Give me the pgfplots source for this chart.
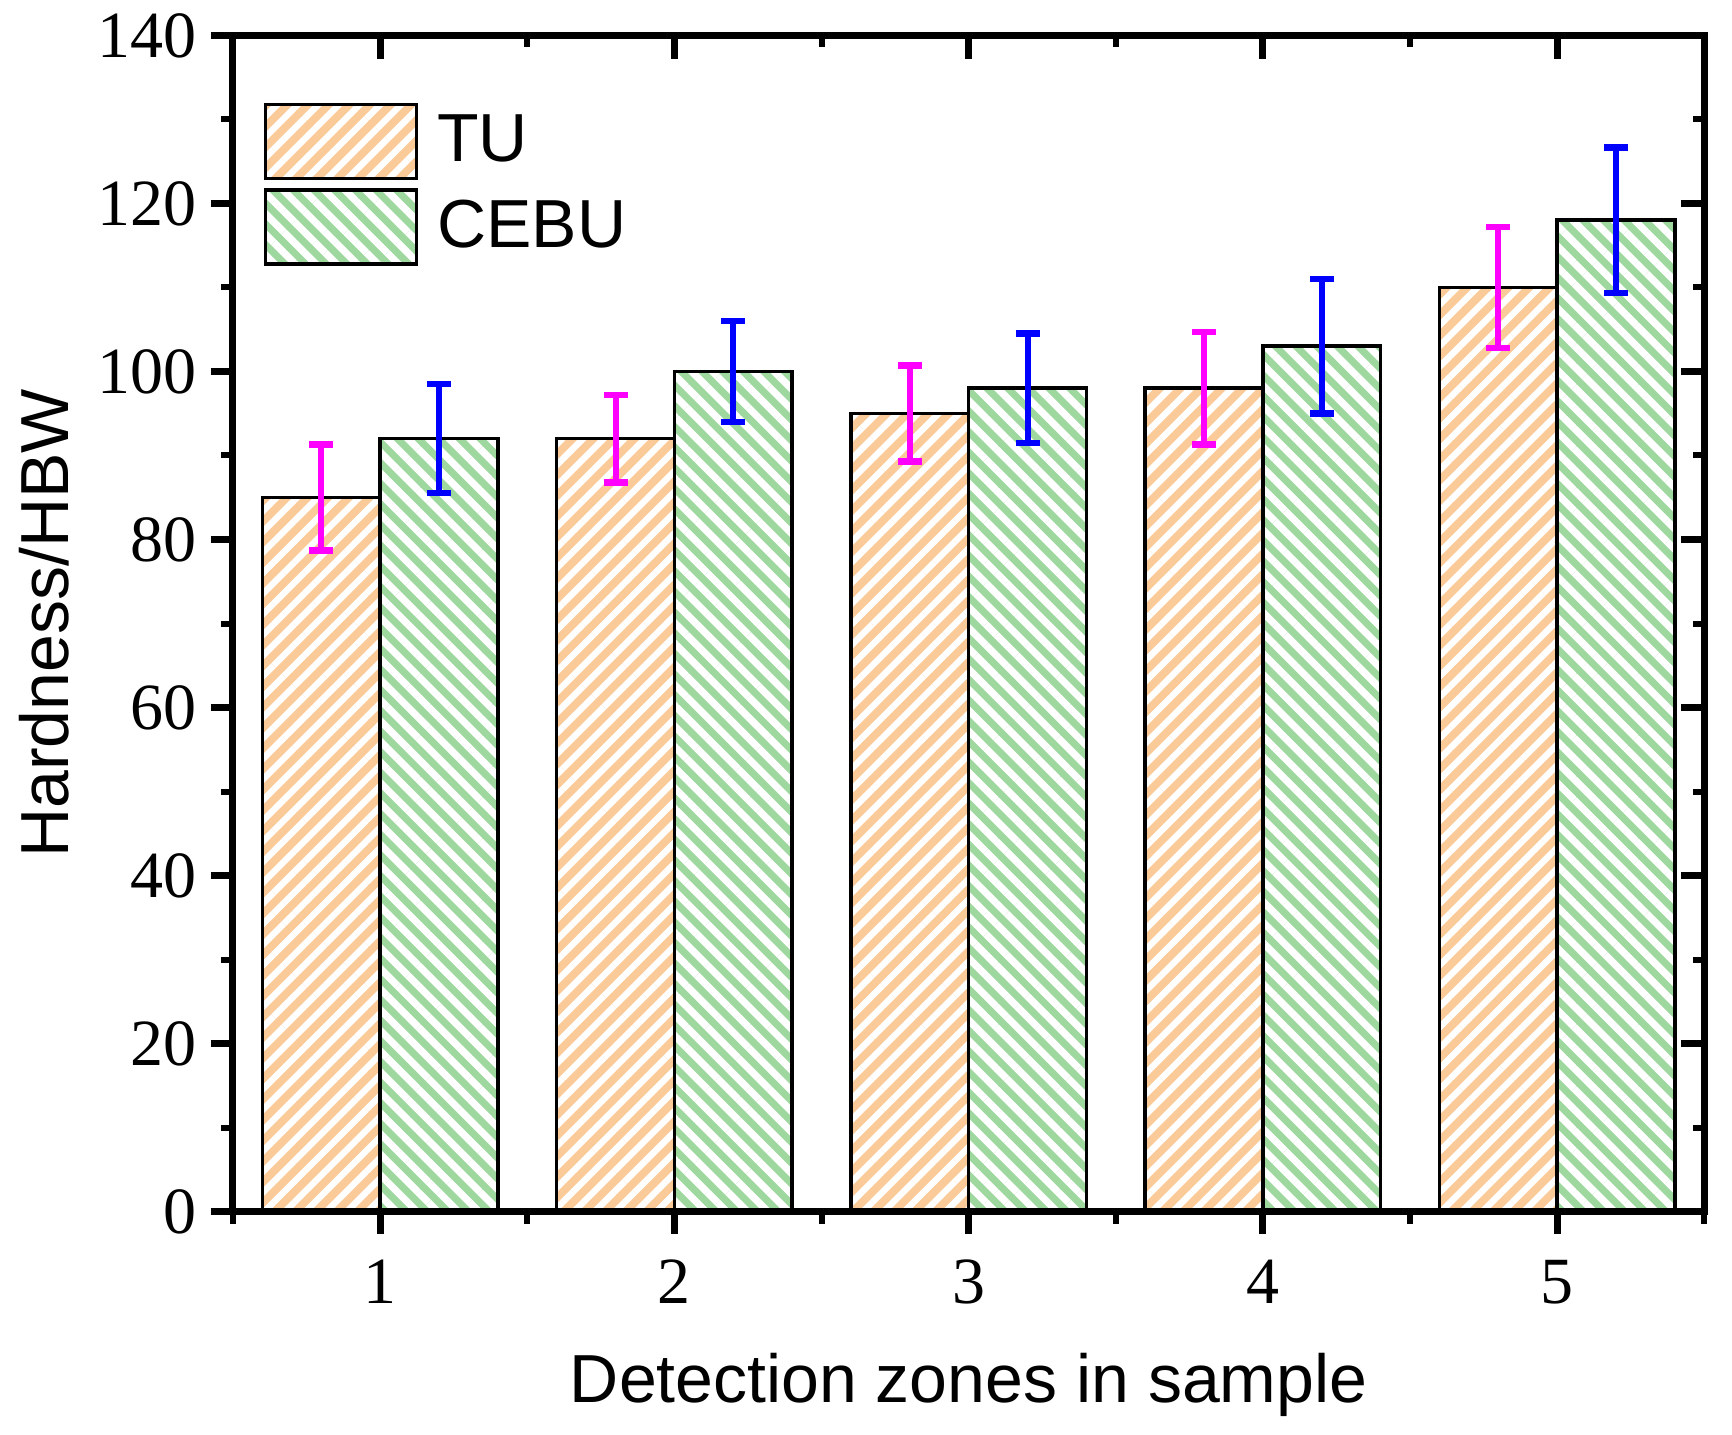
\documentclass[border=0pt]{standalone}
\usepackage{pgfplots}
\pgfplotsset{compat=1.18}
\usetikzlibrary{patterns.meta}
\usepackage{fontspec}
\setmainfont{Liberation Sans}
\newfontfamily\numfont{Liberation Serif}

\definecolor{tuorange}{RGB}{251,202,153}
\definecolor{cebugreen}{RGB}{158,216,158}
\definecolor{errmag}{RGB}{255,0,255}
\definecolor{errblue}{RGB}{0,0,255}

\pgfplotsset{
  tustyle/.style={draw=black, line width=0.9pt,
    preaction={fill=tuorange},
    pattern={Lines[angle=45, distance=3.65pt, line width=1.6pt]}, pattern color=white},
  cebustyle/.style={draw=black, line width=0.9pt,
    preaction={fill=cebugreen},
    pattern={Lines[angle=-45, distance=3.65pt, line width=1.8pt]}, pattern color=white},
}

\begin{document}
\begin{tikzpicture}
\useasboundingbox (-58.25pt,-55.75pt) rectangle (374.8pt,302.95pt);

% main axis: outward ticks left and bottom
\begin{axis}[
  at={(0,0)}, anchor=south west,
  scale only axis, width=367.9pt, height=294.1pt,
  xmin=0.5, xmax=5.5, ymin=0, ymax=140,
  xtick={1,2,3,4,5}, minor xtick={0.5,1.5,2.5,3.5,4.5,5.5},
  ytick={0,20,...,140}, minor ytick={10,30,...,130},
  xtick pos=left, ytick pos=left,
  tick align=outside,
  major tick length=5.5pt, minor tick length=3pt,
  major tick style={line width=1.75pt, black},
  minor tick style={line width=1.5pt, black},
  axis line style={line width=1.75pt},
  /pgf/number format/assume math mode=true,
  tick label style={font=\fontsize{16.5}{18}\selectfont\numfont},
  xticklabel style={yshift=-3pt},
  every axis x label/.style={at={(axis description cs:0.5,0)}, yshift=-43.25pt,
    anchor=center, font=\fontsize{17}{20}\selectfont},
  every axis y label/.style={at={(axis description cs:0,0.5)}, xshift=-47.25pt,
    rotate=90, anchor=center, font=\fontsize{17}{20}\selectfont},
  xlabel={Detection zones in sample},
  ylabel={Hardness/HBW},
  ybar, bar width=0.4,
  legend style={at={(axis description cs:0,1)}, anchor=north west,
    xshift=7.5pt, yshift=-16.6pt, draw=none, fill=none,
    inner sep=0pt, row sep=2pt, column sep=4.75pt,
    font=\fontsize{17}{20}\selectfont,
    nodes={inner sep=0pt}},
  legend cell align=left,
  legend image code/.code={\draw[#1] (0pt,-9.25pt) rectangle (37.75pt,9.25pt);},
]
\addplot[tustyle, bar shift=-0.2,
  error bars/.cd, y dir=both, y explicit,
  error bar style={errmag, line width=1.5pt},
  error mark options={rotate=90, mark size=3pt, line width=1.6pt, errmag}]
  coordinates {
  (1,85)  +- (0,6.3)
  (2,92)  +- (0,5.2)
  (3,95)  +- (0,5.7)
  (4,98)  +- (0,6.7)
  (5,110) +- (0,7.2)
};
\addplot[cebustyle, bar shift=0.2,
  error bars/.cd, y dir=both, y explicit,
  error bar style={errblue, line width=1.5pt},
  error mark options={rotate=90, mark size=3pt, line width=1.6pt, errblue}]
  coordinates {
  (1,92)  +- (0,6.5)
  (2,100) +- (0,6.0)
  (3,98)  +- (0,6.5)
  (4,103) +- (0,8.0)
  (5,118) +- (0,8.65)
};
\legend{TU, CEBU}
\end{axis}

% overlay axis: inward ticks on top and right
\begin{axis}[
  at={(0,0)}, anchor=south west,
  scale only axis, width=367.9pt, height=294.1pt,
  xmin=0.5, xmax=5.5, ymin=0, ymax=140,
  xtick={1,2,3,4,5}, minor xtick={0.5,1.5,2.5,3.5,4.5,5.5},
  ytick={0,20,...,140}, minor ytick={10,30,...,130},
  xtick pos=right, ytick pos=right,
  tick align=inside,
  major tick length=5.9pt, minor tick length=2.9pt,
  major tick style={line width=1.75pt, black},
  minor tick style={line width=1.5pt, black},
  axis line style={line width=1.75pt},
  xticklabels={}, yticklabels={},
]
\end{axis}
\end{tikzpicture}
\end{document}
